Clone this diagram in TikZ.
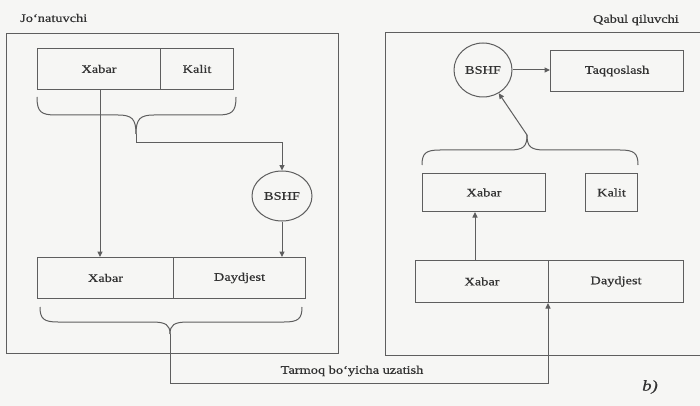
\documentclass[tikz,border=0pt]{standalone}
\usepackage{fontspec}
\setmainfont{Liberation Serif}[FakeStretch=1.25,FakeBold=0.6]
\usetikzlibrary{arrows.meta,shapes.geometric}
\definecolor{ln}{HTML}{5E5E5E}
\definecolor{tx}{HTML}{333333}
\definecolor{bg}{HTML}{F6F6F4}
\tikzset{
  box/.style={draw=ln, line width=1pt, anchor=north west, inner sep=0pt, text=tx, font=\fontsize{11.5}{13}\selectfont},
  circ/.style={draw=ln, line width=1pt, ellipse, inner sep=0pt, text=tx, font=\fontsize{11.5}{13}\selectfont},
  wire/.style={draw=ln, line width=1pt},
  arr/.style={wire, -{Triangle[length=5.5pt,width=5pt]}},
  lbl/.style={text=tx, font=\fontsize{11.5}{13}\selectfont, inner sep=0pt},
}
\begin{document}
\begin{tikzpicture}[x=1pt,y=-1pt]
\useasboundingbox (0,0) rectangle (700,406);
\fill[bg] (0,0) rectangle (700,406);
% panels
\draw[wire] (6,34) rectangle (338,353);
\draw[wire] (703,33) -- (385,33) -- (385,355) -- (703,355);
\node[lbl, anchor=west] (jo) at (20,18) {Jo‘natuvchi};
\node[lbl, anchor=east] (qa) at (679,20) {Qabul qiluvchi};
% left top
\node[box, minimum width=123pt, minimum height=41pt] (xa1) at (37,48) {Xabar};
\node[box, minimum width=73pt, minimum height=41pt] (ka1) at (160,48) {Kalit};
% brace 1
\coordinate (c1) at (136,134);
\draw[wire] (37,97) .. controls (37,112) and (41,115) .. (56,115) -- (118,115) .. controls (132,115) and (136,119) .. (c1);
\draw[wire] (236,97) .. controls (236,112) and (232,115) .. (217,115) -- (154,115) .. controls (140,115) and (136,119) .. (c1);
% BSHF left
\node[circ, minimum width=60pt, minimum height=50pt] (h1) at (282,196) {BSHF};
\draw[arr] (c1) -- (136,143) -| (h1.north);
% bottom left
\node[box, minimum width=136pt, minimum height=41pt] (xa2) at (37,257) {Xabar};
\node[box, minimum width=132pt, minimum height=41pt] (dd1) at (173,257) {Daydjest};
\draw[arr] (xa1.south -| 100,0) -- (xa2.north -| 100,0);
\draw[arr] (h1.south) -- (h1.south |- xa2.north);
% brace 2
\coordinate (c2) at (170,334);
\draw[wire] (40,307) .. controls (40,319) and (44,322) .. (58,322) -- (152,322) .. controls (166,322) and (170,325) .. (c2);
\draw[wire] (302,307) .. controls (302,319) and (298,322) .. (284,322) -- (188,322) .. controls (174,322) and (170,325) .. (c2);
% right side
\node[circ, minimum width=58pt, minimum height=54pt] (h2) at (483,70) {BSHF};
\node[box, minimum width=133pt, minimum height=41pt] (tq) at (550,50) {Taqqoslash};
\draw[arr] (h2.east) -- (h2.east -| tq.west);
\node[box, minimum width=123pt, minimum height=38pt] (xa3) at (422,173) {Xabar};
\node[box, minimum width=52pt, minimum height=38pt] (ka2) at (585,173) {Kalit};
\coordinate (c3) at (527,135);
\draw[wire] (422,165) .. controls (422,153) and (426,150) .. (440,150) -- (509,150) .. controls (523,150) and (527,147) .. (c3);
\draw[wire] (638,165) .. controls (638,153) and (634,150) .. (620,150) -- (545,150) .. controls (531,150) and (527,147) .. (c3);
\draw[arr] (c3) -- (h2);
\node[box, minimum width=133pt, minimum height=42pt] (xa4) at (415,260) {Xabar};
\node[box, minimum width=135pt, minimum height=42pt] (dd2) at (548,260) {Daydjest};
\draw[arr] (xa4.north -| 475,0) -- (xa3.south -| 475,0);
% network
\node[lbl] (net) at (352,371) {Tarmoq bo‘yicha uzatish};
\draw[arr] (c2) -- (170,383) -| (dd2.south west);
\node[lbl, font=\fontsize{15}{17}\selectfont\itshape] (b) at (650,387) {b)};
\end{tikzpicture}
\end{document}
